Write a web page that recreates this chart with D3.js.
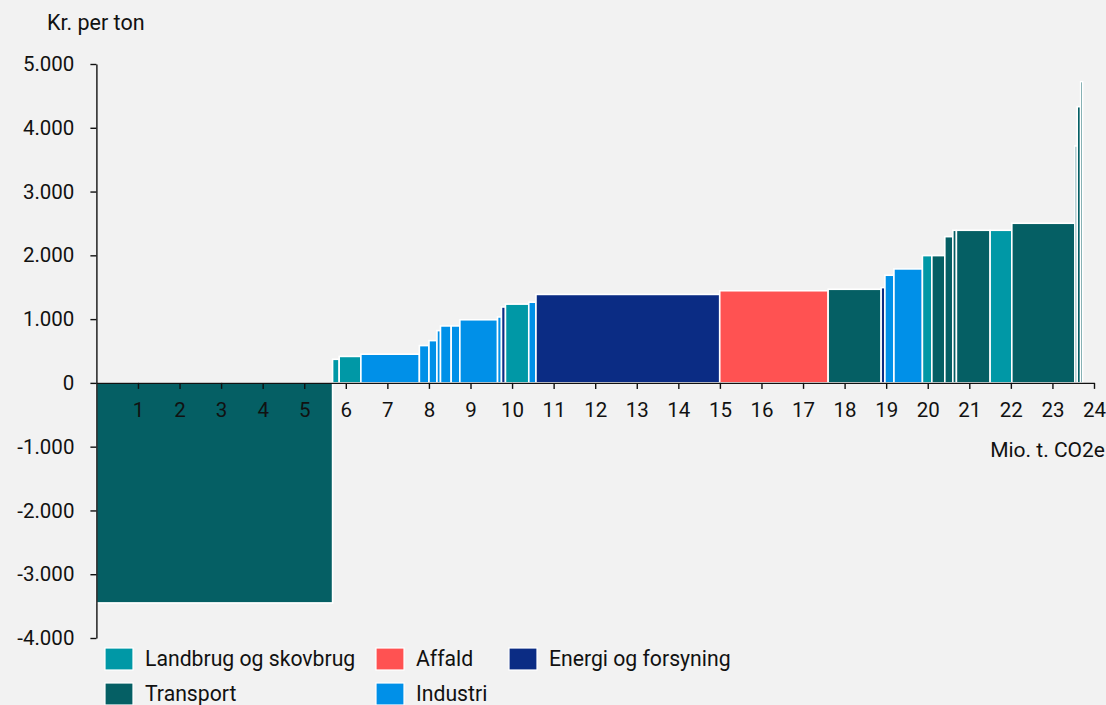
<!DOCTYPE html>
<html>
<head>
<meta charset="utf-8">
<script src="https://cdn.jsdelivr.net/npm/d3@7"></script>
<style>
  html, body { margin: 0; padding: 0; background: #f2f2f2; }
  svg { display: block; font-family: Roboto, "Noto Sans", sans-serif; }
</style>
</head>
<body>
<svg id="chart" width="1106" height="705"></svg>
<script>
// Abatement potential (Mio. t. CO2e) per measure, in curve order
const widths = [5.682, 0.159, 0.522, 1.407, 0.231, 0.192, 0.085, 0.257, 0.209, 0.907,
                0.094, 0.096, 0.561, 0.173, 4.421, 2.608, 1.275, 0.091, 0.217, 0.685,
                0.227, 0.312, 0.193, 0.086, 0.811, 0.522, 1.518, 0.055, 0.082, 0.048];
// Cost (kr. per ton)
const costs = [-3450, 370, 415, 450, 585, 663, 820, 893, 893, 990,
               1034, 1190, 1235, 1265, 1387, 1445, 1468, 1494, 1688, 1787,
               1996, 1996, 2293, 2393, 2393, 2393, 2503, 3715, 4331, 4723];
const sectors = ["Transport", "Landbrug og skovbrug", "Landbrug og skovbrug", "Industri", "Industri", "Industri", "Industri", "Industri", "Industri", "Industri",
                 "Industri", "Energi og forsyning", "Landbrug og skovbrug", "Industri", "Energi og forsyning", "Affald", "Transport", "Energi og forsyning", "Industri", "Industri",
                 "Landbrug og skovbrug", "Transport", "Transport", "Transport", "Transport", "Landbrug og skovbrug", "Transport", "Transport", "Transport", "Transport"];

const legendNames = ["Landbrug og skovbrug", "Affald", "Energi og forsyning", "Transport", "Industri"];
const legendColors = ["#0098a6", "#ff5252", "#0b2c84", "#055f64", "#0090e8"];

const xTicks = d3.range(1, 25);
const yTicks = [-4000, -3000, -2000, -1000, 0, 1000, 2000, 3000, 4000, 5000];
const yTitle = "Kr. per ton";
const xTitle = "Mio. t. CO2e";

const svg = d3.select("#chart");
const color = d3.scaleOrdinal().domain(legendNames).range(legendColors);
const x = d3.scaleLinear().domain([0, 24]).range([96.4, 1094]);
const y = d3.scaleLinear().domain([-4000, 5000]).range([638, 64]);

const loc = d3.formatLocale({decimal: ",", thousands: ".", grouping: [3], currency: ["", " kr"], minus: "-"});
const fmt = loc.format(",d");

// cumulative positions
let acc = 0;
const bars = widths.map((w, i) => {
  const d = {x0: acc, x1: acc + w, v: costs[i], s: sectors[i]};
  acc += w;
  return d;
});

svg.append("g").selectAll("rect").data(bars).join("rect")
  .attr("x", d => x(d.x0))
  .attr("width", d => Math.max(0, x(d.x1) - x(d.x0)))
  .attr("y", d => d.v >= 0 ? y(d.v) : y(0))
  .attr("height", d => Math.abs(y(d.v) - y(0)))
  .attr("fill", d => color(d.s))
  .attr("stroke", "#ffffff")
  .attr("stroke-width", 1.6);

// Y axis
const yAxis = svg.append("g")
  .attr("transform", `translate(${x(0)},0)`)
  .call(d3.axisLeft(y).tickValues(yTicks).tickFormat(fmt).tickSize(6).tickSizeOuter(0).tickPadding(16));
// X axis
const xAxis = svg.append("g")
  .attr("transform", `translate(0,${y(0)})`)
  .call(d3.axisBottom(x).tickValues(xTicks).tickFormat(d3.format("d")).tickSize(6).tickSizeOuter(0).tickPadding(14));

[yAxis, xAxis].forEach(g => {
  g.selectAll("text").attr("font-size", 20.5).attr("font-family", "Roboto, sans-serif").attr("fill", "#111");
  g.selectAll("line").attr("stroke", "#111").attr("stroke-width", 1.4);
  g.select(".domain").attr("stroke", "#111").attr("stroke-width", 1.4);
});

svg.append("text").attr("x", 47).attr("y", 22).attr("dy", "0.35em")
  .attr("font-size", 21.5).attr("fill", "#111").text(yTitle);
svg.append("text").attr("x", 1105).attr("y", 450).attr("dy", "0.35em").attr("text-anchor", "end")
  .attr("font-size", 21).attr("fill", "#111").text(xTitle);

// Legend
const legendX = [105, 376, 509, 105, 376];
const legendY = [648, 648, 648, 683, 683];
const lg = svg.append("g").selectAll("g").data(legendNames).join("g")
  .attr("transform", (d, i) => `translate(${legendX[i]},${legendY[i]})`);
lg.append("rect").attr("width", 28).attr("height", 22)
  .attr("fill", (d, i) => legendColors[i]).attr("stroke", "#fff").attr("stroke-width", 1.2);
lg.append("text").attr("x", 40).attr("y", 11).attr("dy", "0.35em")
  .attr("font-size", 21.2).attr("fill", "#111").text(d => d);
</script>
</body>
</html>
